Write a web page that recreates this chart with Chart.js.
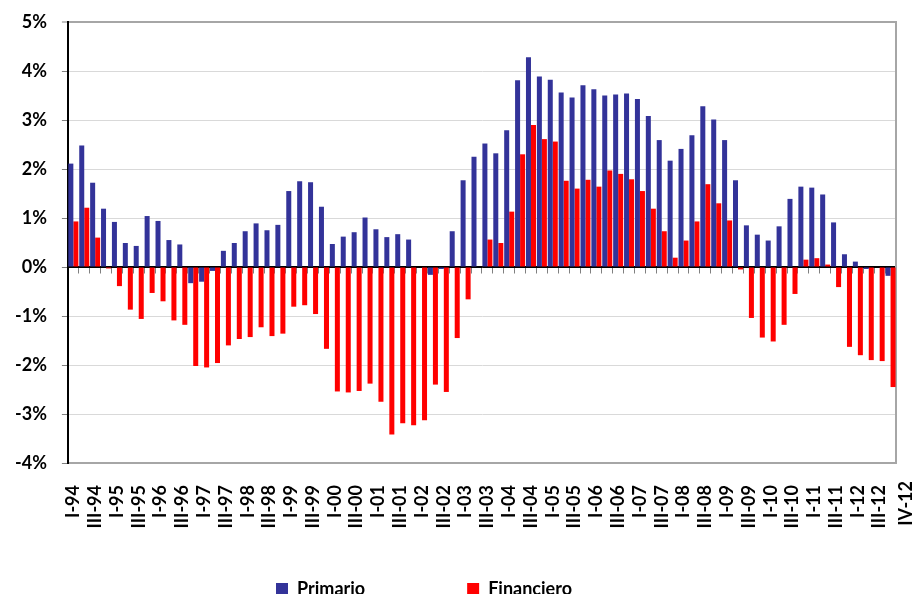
<!DOCTYPE html>
<html>
<head>
<meta charset="utf-8">
<script src="https://cdn.jsdelivr.net/npm/chart.js@4/dist/chart.umd.min.js"></script>
<style>
  html, body { margin: 0; padding: 0; background: #fff; overflow: hidden; }
  #wrap { width: 916px; height: 608px; }
</style>
</head>
<body>
<div id="wrap"><canvas id="c" width="916" height="608"></canvas></div>
<script>
const years = ['94','95','96','97','98','99','00','01','02','03','04','05','06','07','08','09','10','11','12'];
const quarterNames = ['I','II','III','IV'];
const quarters = [];
years.forEach(y => quarterNames.forEach(q => quarters.push(q + '-' + y)));

const primario = [
  2.11, 2.48, 1.72, 1.19, 0.92, 0.49, 0.43, 1.04, 0.94, 0.55, 0.46, -0.33, -0.30, -0.08, 0.33, 0.49, 0.73, 0.89, 0.75, 0.86,
  1.55, 1.75, 1.73, 1.23, 0.47, 0.62, 0.71, 1.01, 0.77, 0.61, 0.67, 0.56, 0.00, -0.16, -0.04, 0.73, 1.77, 2.25, 2.52, 2.32,
  2.79, 3.81, 4.28, 3.89, 3.82, 3.56, 3.46, 3.71, 3.63, 3.50, 3.52, 3.54, 3.43, 3.08, 2.59, 2.17, 2.41, 2.69, 3.28, 3.01,
  2.59, 1.77, 0.85, 0.66, 0.54, 0.83, 1.39, 1.64, 1.62, 1.48, 0.91, 0.26, 0.11, -0.04, 0.00, -0.18
];
const financiero = [
  0.93, 1.21, 0.60, -0.03, -0.39, -0.87, -1.06, -0.53, -0.70, -1.09, -1.18, -2.02, -2.05, -1.96, -1.60, -1.47, -1.43, -1.23, -1.41, -1.36,
  -0.81, -0.78, -0.96, -1.67, -2.54, -2.56, -2.53, -2.38, -2.75, -3.42, -3.19, -3.23, -3.13, -2.40, -2.55, -1.45, -0.66, 0.00, 0.56, 0.49,
  1.13, 2.30, 2.90, 2.61, 2.56, 1.76, 1.60, 1.78, 1.64, 1.97, 1.90, 1.79, 1.55, 1.19, 0.73, 0.19, 0.54, 0.93, 1.69, 1.30,
  0.95, -0.05, -1.04, -1.44, -1.52, -1.18, -0.55, 0.15, 0.18, 0.05, -0.41, -1.63, -1.80, -1.90, -1.92, -2.45
];
const seriesNames = ['Primario', 'Financiero'];
const seriesColors = ['#333399', '#FF0000'];
const yMin = -4, yMax = 5, yStep = 1;

const FONT = 'Lato';
const tickFont = { family: FONT, size: 18, weight: 'bold' };

const lastLabelPlugin = {
  id: 'lastLabel',
  afterDraw(chart) {
    const xs = chart.scales.x;
    const ctx = chart.ctx;
    const i = quarters.length - 1;
    const x = xs.getPixelForValue(i) + 16;
    ctx.save();
    ctx.translate(x, xs.top + 18);
    ctx.rotate(-Math.PI / 2);
    ctx.font = 'bold 18px ' + FONT;
    ctx.fillStyle = '#000';
    ctx.textAlign = 'right';
    ctx.textBaseline = 'middle';
    ctx.fillText(quarters[i], 0, 0);
    ctx.restore();
  }
};

const legendShiftPlugin = {
  id: 'legendShift',
  afterLayout(chart) {
    if (chart.legend) { chart.legend.left -= 24; chart.legend.right -= 24; }
  }
};

new Chart(document.getElementById('c'), {
  type: 'bar',
  data: {
    labels: quarters,
    datasets: [
      { label: seriesNames[0], data: primario, backgroundColor: seriesColors[0], borderWidth: 0,
        categoryPercentage: 0.92, barPercentage: 1.0 },
      { label: seriesNames[1], data: financiero, backgroundColor: seriesColors[1], borderWidth: 0,
        categoryPercentage: 0.92, barPercentage: 1.0 }
    ]
  },
  options: {
    responsive: false,
    animation: false,
    devicePixelRatio: 1,
    layout: { padding: { left: 0, right: 20, top: 22, bottom: 0 } },
    plugins: {
      tooltip: { enabled: false },
      legend: {
        position: 'bottom',
        labels: {
          boxWidth: 12, boxHeight: 12, padding: 102,
          font: { family: FONT, size: 18, weight: 'bold' }, color: '#000'
        }
      }
    },
    scales: {
      x: {
        type: 'category',
        position: 'bottom',
        offset: true,
        grid: { display: false, offset: true },
        border: { display: true, color: '#a6a6a6', width: 2 },
        ticks: {
          autoSkip: false, minRotation: 90, maxRotation: 90, padding: 14,
          font: tickFont, color: '#000',
          callback: function (v, i) { return i % 2 === 0 ? this.getLabelForValue(v) : ''; }
        },
        afterFit: s => {
          s.height = 15;
          s.paddingLeft = 0; s.paddingRight = 0;
          s._computeLabelArea = () => null;
        }
      },
      x2: {
        type: 'category',
        position: { y: 0 },
        offset: true,
        grid: { offset: true, drawOnChartArea: false, drawTicks: true, tickLength: 6, color: '#808080', tickWidth: 1 },
        border: { display: true, color: '#000', width: 1.5 },
        ticks: { display: false }
      },
      y: {
        min: yMin, max: yMax,
        ticks: {
          stepSize: yStep, padding: 15, font: tickFont, color: '#000',
          callback: v => v + '%'
        },
        grid: {
          color: c => c.tick.value === 0 ? '#000' : (c.tick.value === yMax ? '#a6a6a6' : '#d9d9d9'),
          lineWidth: c => c.tick.value === yMax ? 2 : 1,
          tickColor: '#808080', tickWidth: 1, tickLength: 6
        },
        border: { display: true, color: '#000', width: 2 },
        afterFit: s => { s.paddingTop = 0; s.paddingBottom = 0; }
      },
      y2: {
        position: 'right',
        display: true,
        grid: { drawOnChartArea: false, drawTicks: false },
        ticks: { display: false },
        border: { display: true, color: '#a6a6a6', width: 2 }
      }
    }
  },
  plugins: [lastLabelPlugin, legendShiftPlugin]
});
</script>
</body>
</html>
